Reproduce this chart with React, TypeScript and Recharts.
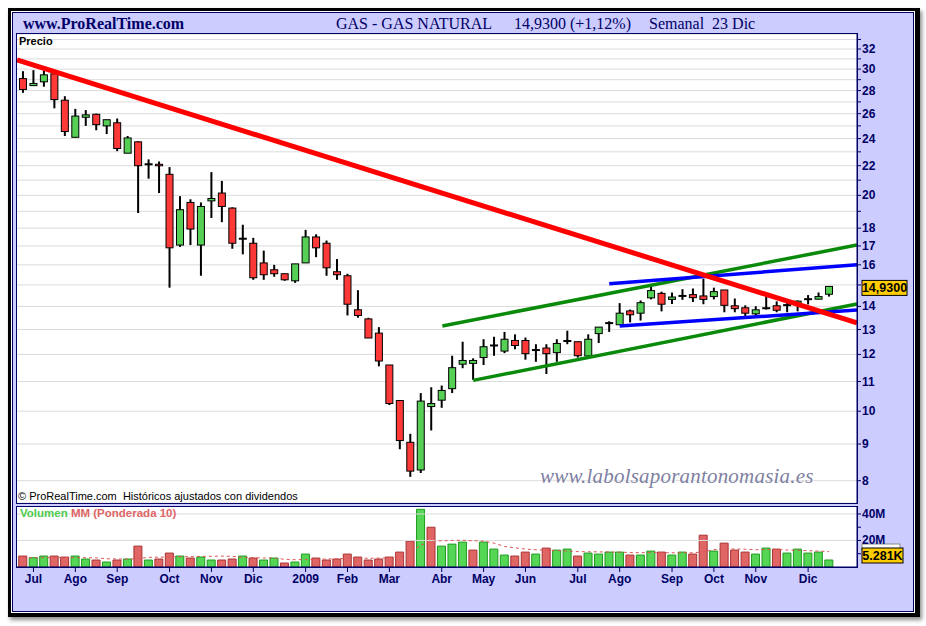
import React from "react";
import {
  Bar,
  Cell,
  ComposedChart,
  CartesianGrid,
  Line,
  ReferenceLine,
  XAxis,
  YAxis,
} from "recharts";

// weekly candles, GAS NATURAL (Jul 2008 - 23 Dic 2009)
const opens = [
  29.1, 28.45, 28.8, 29.55, 27.15, 24.1, 25.7, 25.95, 25.0, 25.25,
  22.9, 23.75, 22.1, 22.1, 21.4, 17.05, 19.55, 17.05, 19.65, 20.15,
  19.2, 17.4, 17.15, 16.1, 15.75, 15.55, 15.2, 16.1, 17.5, 17.15,
  15.65, 15.45, 13.85, 13.45, 12.85, 11.6, 10.35, 9.05, 8.28, 10.15,
  10.36, 10.75, 11.63, 11.66, 11.88, 12.35, 12.13, 12.55, 12.55, 12.17,
  12.25, 12.07, 12.53, 12.5, 11.94, 12.83, 13.27, 13.2, 13.8, 13.7,
  14.39, 14.6, 14.32, 14.48, 14.54, 14.48, 14.45, 14.76, 14.03, 13.94,
  13.67, 13.92, 14.03, 14.06, 14.09, 14.33, 14.33, 14.56,
];
const highs = [
  29.8, 29.9, 29.85, 29.7, 27.5, 26.4, 26.3, 26.0, 25.5, 25.6,
  24.2, 23.8, 22.45, 22.3, 21.9, 19.95, 19.75, 19.55, 21.55, 20.95,
  19.25, 18.2, 17.45, 16.75, 16.0, 15.55, 16.05, 17.9, 17.65, 17.3,
  16.3, 15.55, 14.75, 13.5, 13.1, 11.6, 10.35, 9.3, 10.6, 10.8,
  10.86, 11.95, 12.5, 11.85, 12.6, 12.7, 12.9, 12.8, 12.67, 12.4,
  12.4, 12.6, 12.95, 12.5, 12.8, 13.1, 13.35, 14.15, 13.86, 14.27,
  14.9, 14.68, 14.64, 14.8, 14.83, 15.3, 14.87, 14.76, 14.36, 14.05,
  14.01, 14.48, 14.23, 14.2, 14.27, 14.52, 14.64, 14.94,
];
const lows = [
  27.8, 28.45, 28.35, 26.45, 24.2, 24.1, 25.0, 24.65, 24.35, 23.05,
  22.9, 18.9, 21.1, 20.15, 14.87, 16.95, 17.05, 15.45, 18.6, 18.35,
  16.85, 16.55, 15.25, 15.25, 15.4, 15.2, 15.1, 16.1, 16.4, 15.45,
  15.25, 13.6, 13.5, 12.65, 11.55, 10.2, 8.85, 8.1, 8.2, 9.4,
  10.11, 10.6, 11.48, 11.06, 11.6, 11.95, 12.05, 12.2, 11.8, 11.72,
  11.27, 11.72, 12.4, 11.88, 11.94, 12.45, 12.9, 13.2, 13.3, 13.38,
  14.32, 13.78, 14.11, 14.3, 14.2, 14.1, 14.32, 13.74, 13.74, 13.57,
  13.6, 13.86, 13.74, 13.74, 13.78, 14.09, 14.33, 14.45,
];
const closes = [
  28.1, 28.65, 29.45, 27.2, 24.55, 25.8, 25.9, 25.1, 25.5, 23.25,
  24.05, 22.0, 22.1, 22.0, 16.9, 19.1, 17.95, 19.3, 19.8, 19.3,
  17.15, 17.4, 15.35, 15.5, 15.55, 15.25, 16.05, 17.5, 16.9, 15.85,
  15.5, 14.1, 13.6, 12.65, 11.75, 10.25, 9.1, 8.25, 10.33, 10.25,
  10.69, 11.5, 11.77, 11.77, 12.3, 12.35, 12.6, 12.35, 12.03, 12.17,
  12.03, 12.43, 12.53, 11.95, 12.6, 13.1, 13.27, 13.7, 13.63, 14.17,
  14.73, 14.1, 14.43, 14.48, 14.4, 14.32, 14.68, 14.05, 13.9, 13.7,
  13.85, 13.92, 13.83, 14.06, 14.24, 14.33, 14.45, 14.93,
];
// volume in millions
const volumes = [
  8.25, 7.0, 8.25, 8.25, 7.5, 8.25, 6.0, 5.25, 3.75, 5.25,
  6.0, 15.75, 5.25, 6.0, 10.5, 8.25, 6.75, 7.5, 5.25, 5.25,
  6.0, 8.25, 6.75, 5.25, 6.75, 3.0, 3.75, 9.75, 6.75, 5.25,
  6.0, 9.75, 7.5, 5.25, 6.0, 7.5, 11.25, 19.5, 43.5, 30.0,
  15.75, 17.25, 18.75, 12.75, 18.75, 13.5, 9.0, 8.25, 11.25, 9.75,
  14.25, 12.75, 13.5, 8.25, 10.5, 9.75, 11.25, 11.25, 9.0, 9.0,
  12.0, 11.25, 9.0, 11.25, 9.75, 24.0, 12.0, 18.0, 12.75, 11.25,
  9.75, 14.25, 13.5, 10.5, 13.5, 10.5, 11.25, 5.281,
];
// MM ponderada 10
const volumeMA = [
  7.0, 7.0, 7.0, 7.1, 7.1, 7.0, 7.0, 6.9, 6.2, 6.0,
  6.0, 6.3, 7.3, 7.4, 7.6, 7.8, 7.8, 8.0, 8.1, 8.2,
  8.1, 7.2, 7.0, 6.8, 6.8, 5.8, 5.5, 5.6, 5.8, 6.0,
  6.2, 6.6, 6.7, 6.6, 6.7, 6.9, 7.6, 11.0, 16.5, 19.3,
  19.8, 20.0, 20.2, 19.8, 19.5, 18.0, 15.5, 14.5, 13.5, 13.0,
  12.6, 12.4, 12.0, 11.6, 11.5, 11.4, 11.3, 11.2, 10.9, 10.8,
  10.8, 10.8, 10.7, 10.8, 10.7, 11.5, 13.0, 13.6, 13.6, 13.4,
  13.0, 13.2, 13.3, 12.8, 12.6, 12.3, 12.0, 11.6,
];

const monthTickIdx = [1, 5, 9, 14, 18, 22, 27, 31, 35, 40, 44, 48, 53, 57, 62, 66, 70, 75];
const monthLabels = ["Jul", "Ago", "Sep", "Oct", "Nov", "Dic", "2009", "Feb", "Mar", "Abr", "May", "Jun", "Jul", "Ago", "Sep", "Oct", "Nov", "Dic"];

const priceTicks = [8, 9, 10, 11, 12, 13, 14, 15, 16, 17, 18, 19, 20, 21, 22, 23, 24, 25, 26, 27, 28, 29, 30, 31, 32, 33];
const priceLabels = [8, 9, 10, 11, 12, 13, 14, 16, 17, 18, 20, 22, 24, 26, 28, 30, 32];
const volTicks = [10, 20, 30, 40];
const volLabels = [20, 40];

// trend lines: [index, price]
const redTrend = [{ i: -0.573, v: 30.89 }, { i: 79.67, v: 13.28 }];
const greenUpper = [{ i: 40.06, v: 13.15 }, { i: 79.67, v: 17.05 }];
const greenLower = [{ i: 43.0, v: 11.04 }, { i: 79.67, v: 14.11 }];
const blueUpper = [{ i: 56.0, v: 15.06 }, { i: 79.67, v: 16.0 }];
const blueLower = [{ i: 57.0, v: 13.15 }, { i: 79.67, v: 13.84 }];

const X_DOMAIN: [number, number] = [-0.573, 79.67];
const NAVY = "#000066";
const UP = "#55d055";
const DOWN = "#ff3838";
const BODY_W = 8;

const candles = opens.map((o, i) => ({
  i,
  o,
  h: highs[i],
  l: lows[i],
  c: closes[i],
  range: [lows[i], highs[i]],
  vol: volumes[i],
  ma: volumeMA[i],
  up: i > 0 && closes[i] > closes[i - 1],
}));

function Candle(props: any) {
  const { x, y, width, height } = props;
  const d = props.payload && props.payload.o !== undefined ? props.payload : candles[props.index];
  if (!d) return <g />;
  const { o, h, l, c } = d;
  const lh = Math.log(h);
  const ll = Math.log(l);
  const yOf = (p: number) => (lh === ll ? y : y + ((lh - Math.log(p)) / (lh - ll)) * height);
  const cx = x + width / 2;
  const bx = cx - BODY_W / 2;
  const yo = yOf(o);
  const yc = yOf(c);
  if (o === c) {
    return (
      <g>
        <line x1={cx} x2={cx} y1={y} y2={y + height} stroke="#000" strokeWidth={2} />
        <line x1={bx} x2={bx + BODY_W} y1={yo} y2={yo} stroke="#000" strokeWidth={2} />
      </g>
    );
  }
  const top = Math.min(yo, yc);
  const bot = Math.max(yo, yc);
  return (
    <g>
      <line x1={cx} x2={cx} y1={y} y2={y + height} stroke="#000" strokeWidth={2} />
      <rect
        x={bx + 0.5}
        y={top}
        width={BODY_W - 1}
        height={Math.max(bot - top, 1.5)}
        fill={c > o ? UP : DOWN}
        stroke="#000"
        strokeWidth={1}
      />
    </g>
  );
}

const axisText = { fontFamily: '"Liberation Sans", Arial, sans-serif', fontWeight: 700, fontSize: 12, fill: NAVY };

const PriceTick = (props: any) => {
  const { x, y, payload } = props;
  if (!priceLabels.includes(payload.value)) return <g />;
  return (
    <text x={x} y={y} dy={4} textAnchor="start" style={axisText}>
      {payload.value}
    </text>
  );
};

const VolTick = (props: any) => {
  const { x, y, payload } = props;
  if (!volLabels.includes(payload.value)) return <g />;
  return (
    <text x={x} y={y} dy={4} textAnchor="start" style={axisText}>
      {payload.value}M
    </text>
  );
};

const lastClose = closes[closes.length - 1];
const lastVol = volumes[volumes.length - 1];

const PriceBox = (props: any) => {
  const vb = props.viewBox;
  const bx = vb.x + vb.width + 5;
  const by = vb.y - 6;
  return (
    <g>
      <rect x={bx} y={by} width={45} height={15} fill="#ffcc00" stroke="#000" strokeWidth={1} />
      <text x={bx + 22.5} y={by + 12} textAnchor="middle" style={{ ...axisText, fill: "#000", fontSize: 12.5 }}>
        {lastClose.toFixed(4).replace(".", ",")}
      </text>
    </g>
  );
};

const VolBox = (props: any) => {
  const vb = props.viewBox;
  const bx = vb.x + vb.width + 5;
  const by = vb.y - 12;
  return (
    <g>
      <rect x={bx} y={by - 4} width={38} height={6} fill="#fff" stroke="#888" strokeWidth={1} />
      <rect x={bx} y={by} width={41} height={15} fill="#ffcc00" stroke="#000" strokeWidth={1} />
      <text x={bx + 20.5} y={by + 12} textAnchor="middle" style={{ ...axisText, fill: "#000", fontSize: 12.5 }}>
        {`${lastVol.toFixed(3)}K`}
      </text>
    </g>
  );
};

export default function App() {
  return (
    <div
      style={{
        position: "absolute",
        left: 0,
        top: 0,
        width: 926,
        height: 626,
        background: "#fff",
        overflow: "hidden",
        fontFamily: '"Liberation Sans", Arial, sans-serif',
      }}
    >
      {/* frame */}
      <div style={{ position: "absolute", left: 8, top: 8, width: 912, height: 609, background: "#000", boxShadow: "2px 3px 4px rgba(0,0,0,0.45)" }} />
      <div style={{ position: "absolute", left: 11, top: 11, width: 904, height: 602, background: "#fff" }} />
      <div style={{ position: "absolute", left: 12, top: 12, width: 902, height: 600, boxSizing: "border-box", border: `1px solid ${NAVY}`, background: "#ccccff" }} />

      {/* header */}
      <div style={{ position: "absolute", left: 23, top: 15, fontFamily: '"Liberation Serif", serif', fontWeight: 700, fontSize: 16, lineHeight: "18px", color: NAVY }}>
        www.ProRealTime.com
      </div>
      <div style={{ position: "absolute", left: 336, top: 15, fontFamily: '"Liberation Serif", serif', fontSize: 16, lineHeight: "18px", color: NAVY, whiteSpace: "pre" }}>
        GAS - GAS NATURAL
      </div>
      <div style={{ position: "absolute", left: 514, top: 15, fontFamily: '"Liberation Serif", serif', fontSize: 16, lineHeight: "18px", color: NAVY, whiteSpace: "pre" }}>
        14,9300 (+1,12%)
      </div>
      <div style={{ position: "absolute", left: 649, top: 15, fontFamily: '"Liberation Serif", serif', fontSize: 16, lineHeight: "18px", color: NAVY, whiteSpace: "pre" }}>
        Semanal  23 Dic
      </div>

      {/* price panel */}
      <div style={{ position: "absolute", left: 16, top: 33, width: 842, height: 471, boxSizing: "border-box", border: `1px solid ${NAVY}`, background: "#fff" }} />
      <div style={{ position: "absolute", left: 17, top: 34 }}>
        <ComposedChart width={900} height={469} data={candles} margin={{ top: 0, right: 0, bottom: 0, left: 0 }}>
          <CartesianGrid vertical={false} stroke="#dcdcdc" />
          <XAxis type="number" dataKey="i" domain={X_DOMAIN} allowDataOverflow hide />
          <YAxis
            orientation="right"
            scale="log"
            domain={[7.447, 33.58]}
            allowDataOverflow
            ticks={priceTicks}
            interval={0}
            width={60}
            stroke={NAVY}
            tickSize={4}
            tickMargin={1}
            tick={<PriceTick />}
          />
          <Bar dataKey="range" barSize={8} shape={(p: any) => <Candle {...p} />} isAnimationActive={false} />
          <Line data={greenUpper} dataKey="v" type="linear" stroke="#0a8a0a" strokeWidth={3.5} dot={false} isAnimationActive={false} />
          <Line data={greenLower} dataKey="v" type="linear" stroke="#0a8a0a" strokeWidth={3.5} dot={false} isAnimationActive={false} />
          <Line data={blueUpper} dataKey="v" type="linear" stroke="#0000ff" strokeWidth={3.5} dot={false} isAnimationActive={false} />
          <Line data={blueLower} dataKey="v" type="linear" stroke="#0000ff" strokeWidth={3.5} dot={false} isAnimationActive={false} />
          <Line data={redTrend} dataKey="v" type="linear" stroke="#ff0000" strokeWidth={5} dot={false} isAnimationActive={false} />
          <ReferenceLine y={lastClose} stroke="none" label={<PriceBox />} />
        </ComposedChart>
      </div>
      <div style={{ position: "absolute", left: 19, top: 35, fontWeight: 700, fontSize: 11, lineHeight: "12px", color: "#000" }}>Precio</div>
      <div
        style={{
          position: "absolute",
          left: 540,
          top: 464,
          fontFamily: '"Liberation Serif", serif',
          fontStyle: "italic",
          fontSize: 21,
          lineHeight: "24px",
          color: "#8080a2",
          textShadow: "1px 1px 1px rgba(255,255,255,0.9)",
          letterSpacing: 0.2,
        }}
      >
        www.labolsaporantonomasia.es
      </div>
      <div style={{ position: "absolute", left: 18, top: 490, fontSize: 11, lineHeight: "13px", color: "#000", whiteSpace: "pre" }}>
        © ProRealTime.com  Históricos ajustados con dividendos
      </div>

      {/* volume panel */}
      <div style={{ position: "absolute", left: 16, top: 506, width: 842, height: 62, boxSizing: "border-box", border: `1px solid ${NAVY}`, background: "#fff" }} />
      <div style={{ position: "absolute", left: 17, top: 507 }}>
        <ComposedChart width={900} height={90} data={candles} margin={{ top: 0, right: 0, bottom: 0, left: 0 }}>
          <XAxis
            type="number"
            dataKey="i"
            domain={X_DOMAIN}
            allowDataOverflow
            ticks={monthTickIdx}
            interval={0}
            height={30}
            stroke={NAVY}
            tickSize={5}
            tickMargin={2}
            tick={axisText}
            tickFormatter={(v: number) => monthLabels[monthTickIdx.indexOf(v)] ?? ""}
          />
          <YAxis
            orientation="right"
            domain={[0, 45.25]}
            allowDataOverflow
            ticks={volTicks}
            interval={0}
            width={60}
            stroke={NAVY}
            tickSize={4}
            tickMargin={1}
            tick={<VolTick />}
          />
          <ReferenceLine y={20} stroke="#dcdcdc" />
          <ReferenceLine y={40} stroke="#dcdcdc" />
          <Bar dataKey="vol" barSize={8} isAnimationActive={false}>
            {candles.map((d) => (
              <Cell key={`v-${d.i}`} fill={d.up ? "#55d655" : "#e06666"} stroke={d.up ? "#1f9a1f" : "#a83232"} strokeWidth={1} />
            ))}
          </Bar>
          <Line dataKey="ma" type="linear" stroke="#e05555" strokeWidth={1} strokeDasharray="3 3" dot={false} isAnimationActive={false} />
          <ReferenceLine y={lastVol} stroke="none" label={<VolBox />} />
        </ComposedChart>
      </div>
      <div style={{ position: "absolute", left: 20, top: 507, fontWeight: 700, fontSize: 11.5, lineHeight: "13px", whiteSpace: "pre" }}>
        <span style={{ color: "#4ccc4c" }}>Volumen </span>
        <span style={{ color: "#dd6666" }}>MM (Ponderada 10)</span>
      </div>
    </div>
  );
}
